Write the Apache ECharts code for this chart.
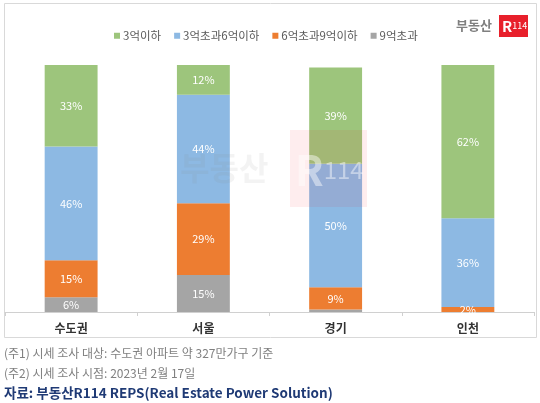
<!DOCTYPE html>
<html><head><meta charset="utf-8">
<script src="https://cdn.jsdelivr.net/npm/echarts@6/dist/echarts.min.js"></script>
<style>html,body{margin:0;padding:0;background:#fff}#c{width:540px;height:403px}</style>
</head><body><div id="c"></div>
<script>
const categories = ['수도권', '서울', '경기', '인천'];
const seriesNames = ['3억이하', '3억초과6억이하', '6억초과9억이하', '9억초과'];
const under3 = [33, 12, 39, 62];
const from3to6 = [46, 44, 50, 36];
const from6to9 = [15, 29, 9, 2];
const over9 = [6, 15, 1, 0];
const colors = ['#9DC57C', '#8DB9E3', '#ED7D31', '#A5A5A5'];
const FONT = '"Noto Sans CJK KR", "Noto Sans", sans-serif';

const stackOrder = [over9, from6to9, from3to6, under3];
const stackNames = [seriesNames[3], seriesNames[2], seriesNames[1], seriesNames[0]];
const stackColors = [colors[3], colors[2], colors[1], colors[0]];

const series = stackOrder.map((arr, i) => ({
  name: stackNames[i],
  type: 'bar',
  stack: 'total',
  barWidth: '40%',
  itemStyle: { color: stackColors[i] },
  label: {
    show: true, position: 'inside', color: '#fff', fontSize: 11, fontFamily: FONT,
    formatter: p => (p.value >= 2 ? p.value + '%' : '')
  },
  data: arr.map(v => v > 0 ? v : null)
}));

const chart = echarts.init(document.getElementById('c'));
chart.setOption({
  animation: false,
  textStyle: { fontFamily: FONT },
  legend: {
    data: seriesNames,
    top: 25, left: 109,
    icon: 'rect', itemWidth: 6, itemHeight: 6, itemGap: 13,
    textStyle: { fontSize: 11.5, color: '#595959', fontFamily: FONT, padding: [0, 0, 0, -2] }
  },
  grid: { left: 5, right: 6, top: 65, bottom: 91 },
  xAxis: {
    type: 'category', data: categories,
    axisLine: { lineStyle: { color: '#d0d0d0' } },
    axisTick: { show: true, length: 4, lineStyle: { color: '#d0d0d0' } },
    axisLabel: { fontSize: 12, fontWeight: 'bold', color: '#333', margin: 10, fontFamily: FONT }
  },
  yAxis: { type: 'value', min: 0, max: 100, show: false, splitLine: { show: false } },
  series: series,
  graphic: [
    { type: 'rect', shape: { x: 4.5, y: 3.5, width: 532, height: 334 }, style: { fill: 'none', stroke: '#d9d9d9', lineWidth: 1 }, z: -10 },
    // watermark
    { type: 'text', x: 180, y: 152, z: 100, style: { text: '부동산', fontSize: 32, fontWeight: 'bold', fontFamily: FONT, fill: 'rgba(140,140,140,0.10)' } },
    { type: 'rect', z: 100, shape: { x: 290, y: 130, width: 77, height: 77 }, style: { fill: 'rgba(237,30,40,0.08)' } },
    { type: 'text', x: 295, y: 170, z: 101, style: { text: '{a|R}{b|114}', textVerticalAlign: 'middle', fontFamily: FONT,
      rich: { a: { fontSize: 42, fontWeight: 'bold', fill: 'rgba(255,255,255,0.45)', fontFamily: FONT },
              b: { fontSize: 24, fill: 'rgba(255,255,255,0.45)', fontFamily: FONT } } } },
    // logo
    { type: 'text', x: 456, y: 25, style: { text: '부동산', fontSize: 13, fontWeight: 'bold', fontFamily: FONT, fill: '#808080', textVerticalAlign: 'middle' } },
    { type: 'rect', shape: { x: 499, y: 15, width: 29, height: 22 }, style: { fill: '#E8202B' } },
    { type: 'text', x: 502, y: 26, style: { text: '{a|R}{b|114}', textVerticalAlign: 'middle', fontFamily: FONT,
      rich: { a: { fontSize: 15, fontWeight: 'bold', fill: '#fff', fontFamily: FONT }, b: { fontSize: 9, fill: '#fff', fontFamily: FONT } } } },
    // footer
    { type: 'text', x: 4, y: 353, style: { text: '(주1) 시세 조사 대상: 수도권 아파트 약 327만가구 기준', fontSize: 12, fontFamily: FONT, fill: '#808080', textVerticalAlign: 'middle' } },
    { type: 'text', x: 4, y: 373, style: { text: '(주2) 시세 조사 시점: 2023년 2월 17일', fontSize: 12, fontFamily: FONT, fill: '#808080', textVerticalAlign: 'middle' } },
    { type: 'text', x: 4, y: 393, style: { text: '자료: 부동산R114 REPS(Real Estate Power Solution)', fontSize: 13.5, fontWeight: 'bold', fontFamily: FONT, fill: '#1F3A75', textVerticalAlign: 'middle' } }
  ]
});
</script></body></html>
